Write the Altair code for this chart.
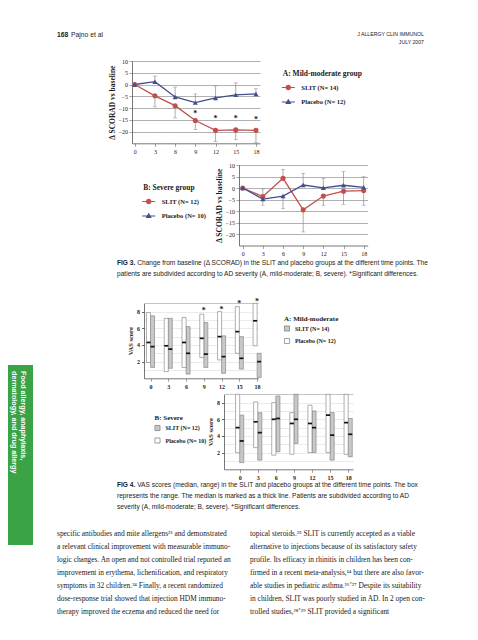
import altair as alt
import pandas as pd

W, H = 462, 624
SERIF = "Liberation Serif"
SANS = "Liberation Sans"
RED = "#c0504d"
BLUE = "#3f4f8f"
GRAY = "#8a8a8a"
INK = "#1a1a1a"

months = [0, 3, 6, 9, 12, 15, 18]

# FIG 3A mild-moderate: change of SCORAD vs baseline
a_slit = [0, -4.8, -9.0, -15.3, -19.5, -19.3, -19.5]
a_slit_end = [0, -9.5, -14.2, -19.2, -24.3, -23.5, -24.6]
a_plac = [0, 1.2, -5.3, -7.7, -5.7, -4.4, -4.0]
a_plac_end = [0, 3.6, -1.1, -4.0, -0.6, 0.7, -1.8]
a_star_m = [9, 12, 15, 18]
a_star_y = [-11.6, -14.0, -14.0, -14.2]

# FIG 3B severe
b_slit = [0, -3.7, 4.2, -9.5, -3.5, -1.4, -1.1]
b_slit_end = [0, -0.4, 8.1, -19.1, -7.5, -7.1, -7.5]
b_plac = [0, -4.8, -3.5, 1.3, 0.1, 1.2, 0.3]
b_plac_end = [0, -7.5, -9.0, 6.4, 4.1, 7.1, 4.9]

# FIG 4A mild-moderate: VAS (min, max, median)
c_plac_min = [1.9, 0.8, 1.3, 2.5, 2.2, 3.0, 3.9]
c_plac_max = [7.9, 7.2, 7.3, 7.7, 8.0, 8.6, 9.0]
c_plac_med = [4.3, 3.9, 4.3, 4.8, 5.0, 5.6, 6.9]
c_slit_min = [1.3, 1.2, 0.5, 1.3, 0.6, 1.1, 0.1]
c_slit_max = [7.5, 7.2, 6.2, 6.7, 5.1, 5.0, 3.0]
c_slit_med = [3.8, 3.5, 3.0, 2.9, 2.6, 2.4, 2.0]
c_star_m = [9, 12, 15, 18]
c_star_y = [8.3, 8.4, 9.1, 9.4]

# FIG 4B severe
d_plac_min = [2.0, 2.6, 1.7, 1.8, 2.0, 2.0, 1.8]
d_plac_max = [9.0, 8.1, 8.0, 6.8, 7.7, 9.0, 9.0]
d_plac_med = [5.0, 5.7, 6.0, 5.5, 5.5, 6.5, 5.6]
d_slit_min = [0.8, 1.1, 2.1, 3.1, 2.0, 1.1, 1.5]
d_slit_max = [6.5, 6.8, 8.8, 9.0, 7.0, 6.8, 6.1]
d_slit_med = [3.4, 4.4, 6.1, 6.0, 5.0, 4.1, 4.2]

BOXW = 0.68
# legend keys: a thin filled bar (the line) plus the marker
BAR = "M-1.45,-0.09L1.45,-0.09L1.45,0.09L-1.45,0.09Z"
P_S = BAR + "M0.62,0A0.62,0.62,0,1,1,-0.62,0A0.62,0.62,0,1,1,0.62,0Z"
P_P = BAR + "M0,-0.75L0.68,0.45L-0.68,0.45Z"

one = pd.DataFrame({"k": [0]})


def txt(text, x, y, size, font=SANS, weight="normal", align="left",
        baseline="alphabetic", color=INK, lh=None, angle=None, style="normal"):
    kw = dict(align=align, baseline=baseline, font=font, fontSize=size,
              fontWeight=weight, color=color, fontStyle=style)
    if lh is not None:
        kw["lineHeight"] = lh
    if angle is not None:
        kw["angle"] = angle
    return alt.Chart(one).mark_text(**kw).encode(
        x=alt.value(x), y=alt.value(y), text=alt.value(text))


def fig3(slit, slit_end, plac, plac_end, star_m, star_y, n_s, n_p, title,
         xdom, xr, yr, lx, ly):
    lab_s, lab_p = f"SLIT (N= {n_s})", f"Placebo (N= {n_p})"
    dom = [lab_s, lab_p]
    df = pd.DataFrame({"month": months * 2, "value": slit + plac,
                       "end": slit_end + plac_end,
                       "group": [lab_s] * 7 + [lab_p] * 7})

    def xs():
        return alt.Scale(domain=xdom, range=xr, nice=False, zero=False)

    def ys():
        return alt.Scale(domain=[-25, 10], range=yr, nice=False, zero=False)

    xaxis = alt.Axis(orient="bottom", offset=yr[0] - H, values=months, title=None,
                     grid=False, labelFont=SERIF, labelFontSize=6, labelColor=INK,
                     labelPadding=2, tickSize=3, tickColor="#666", tickWidth=0.6,
                     domainColor="#555", domainWidth=0.8, labelFlush=False)
    yaxis = alt.Axis(orient="left", offset=-xr[0], values=[10, 5, 0, -5, -10, -15, -20],
                     title="Δ SCORAD vs baseline", titleFont=SERIF, titleFontSize=7.5,
                     titleFontWeight="bold", titleColor=INK, titlePadding=2,
                     labelFont=SERIF, labelFontSize=6, labelColor=INK, labelPadding=1.5,
                     tickSize=3, tickColor="#666", tickWidth=0.6, grid=True,
                     gridColor="#8f8f8f", gridWidth=0.7, domainColor="#555",
                     domainWidth=0.8, labelFlush=False, labelOverlap=False)
    leg = alt.Legend(orient="none", legendX=lx, legendY=ly, title=title, padding=0,
                     symbolSize=80, labelOffset=7.5, rowPadding=1.5, titlePadding=5,
                     titleFont=SERIF, titleFontSize=7.5, titleFontWeight="bold",
                     titleColor=INK, labelFont=SERIF, labelFontSize=6.5,
                     labelFontWeight="bold", labelColor=INK, symbolOpacity=1)

    def color(legend=None):
        return alt.Color("group:N", scale=alt.Scale(domain=dom, range=[RED, BLUE]),
                         legend=legend)

    def X():
        return alt.X("month:Q", scale=xs(), axis=None)

    def Y(f="value"):
        return alt.Y(f"{f}:Q", scale=ys(), axis=None)

    base = alt.Chart(df)
    err = base.transform_filter("datum.month > 0").mark_rule(
        color=GRAY, strokeWidth=0.7).encode(
        x=alt.X("month:Q", scale=xs(), axis=xaxis),
        y=alt.Y("value:Q", scale=ys(), axis=yaxis), y2="end:Q")
    caps = base.transform_filter("datum.month > 0").mark_tick(
        orient="horizontal", size=4, thickness=0.7, color=GRAY).encode(x=X(), y=Y("end"))
    line = base.mark_line(strokeWidth=1.3).encode(x=X(), y=Y(), color=color())
    pts_s = base.transform_filter(f"datum.group === '{lab_s}'").mark_point(
        filled=True, size=26, opacity=1, shape="circle").encode(x=X(), y=Y(), color=color())
    pts_p = base.transform_filter(f"datum.group === '{lab_p}'").mark_point(
        filled=True, size=26, opacity=1, shape="triangle-up").encode(
        x=X(), y=Y(), color=color())
    key = base.transform_filter("false").mark_point(filled=True, opacity=1).encode(
        color=color(leg),
        shape=alt.Shape("group:N", scale=alt.Scale(domain=dom, range=[P_S, P_P]),
                        legend=leg))
    units = [err, caps, line, pts_s, pts_p, key]
    if star_m:
        st = alt.Chart(pd.DataFrame({"month": star_m, "y": star_y})).mark_text(
            text="*", font=SERIF, fontSize=8, fontWeight="bold", color=INK, dy=2).encode(
            x=X(), y=Y("y"))
        units.append(st)
    return units


def fig4(pmin, pmax, pmed, smin, smax, smed, n_s, n_p, title, xdom, xr, yr, lx, ly,
         star_m=None, star_y=None):
    lab_s, lab_p = f"SLIT (N= {n_s})", f"Placebo (N= {n_p})"
    df = pd.DataFrame({"month": months * 2, "lo": smin + pmin, "hi": smax + pmax,
                       "med": smed + pmed, "group": [lab_s] * 7 + [lab_p] * 7})

    def xs():
        return alt.Scale(domain=xdom, range=xr, nice=False, zero=False)

    def ys():
        return alt.Scale(domain=[0, 9], range=yr, nice=False, zero=False)

    xaxis = alt.Axis(orient="bottom", offset=yr[0] - H, values=months, title=None,
                     grid=False, labelFont=SERIF, labelFontSize=6, labelFontWeight="bold",
                     labelColor=INK, labelPadding=2.5, tickSize=3, tickColor="#666",
                     tickWidth=0.6, domainColor="#555", domainWidth=0.8, labelFlush=False)
    yaxis = alt.Axis(orient="left", offset=-xr[0], values=list(range(1, 10)),
                     labelExpr="datum.value % 2 == 0 ? datum.label : ''",
                     title="VAS score", titleFont=SERIF, titleFontSize=6.5,
                     titleFontWeight="bold", titleColor=INK, titlePadding=3,
                     labelFont=SERIF, labelFontSize=6, labelFontWeight="bold",
                     labelColor=INK, labelPadding=2, tickSize=2.5, tickColor="#666",
                     tickOpacity={"condition": {"test": "datum.value % 2 == 0", "value": 1},
                                  "value": 0},
                     grid=True, gridWidth=0.6,
                     gridColor={"condition": {"test": "datum.value == 9", "value": "#9a9a9a"},
                                "value": "#dedede"},
                     domainColor="#555", domainWidth=0.8, labelFlush=False,
                     labelOverlap=False)
    leg = alt.Legend(orient="none", legendX=lx, legendY=ly, title=title, padding=0,
                     symbolType="square", symbolSize=26, symbolStrokeColor="#777",
                     symbolStrokeWidth=0.7, labelOffset=5, rowPadding=4.5, titlePadding=4,
                     titleFont=SERIF, titleFontSize=7, titleFontWeight="bold",
                     titleColor=INK, labelFont=SERIF, labelFontSize=6,
                     labelFontWeight="bold", labelColor=INK)
    color = alt.Color("group:N", scale=alt.Scale(domain=[lab_s, lab_p],
                                                 range=["#c8c8c8", "#ffffff"]), legend=leg)
    base = alt.Chart(df).transform_calculate(
        x0=f"datum.group === '{lab_s}' ? datum.month : datum.month - {BOXW}",
        x1=f"datum.group === '{lab_s}' ? datum.month + {BOXW} : datum.month")
    box = base.mark_rect(stroke="#7a7a7a", strokeWidth=0.6).encode(
        x=alt.X("x0:Q", scale=xs(), axis=xaxis), x2="x1:Q",
        y=alt.Y("lo:Q", scale=ys(), axis=yaxis), y2="hi:Q", color=color)
    med = base.mark_rule(color="#111", strokeWidth=1.7).encode(
        x=alt.X("x0:Q", scale=xs(), axis=None), x2="x1:Q",
        y=alt.Y("med:Q", scale=ys(), axis=None))
    units = [box, med]
    if star_m:
        st = alt.Chart(pd.DataFrame({"month": star_m, "y": star_y})).mark_text(
            text="*", font=SERIF, fontSize=8, fontWeight="bold", color=INK, dy=2).encode(
            x=alt.X("month:Q", scale=xs(), axis=None), y=alt.Y("y:Q", scale=ys(), axis=None))
        units.append(st)
    return units


f3a = fig3(a_slit, a_slit_end, a_plac, a_plac_end, a_star_m, a_star_y, 14, 12,
           "A: Mild-moderate group", [-0.4, 18.6], [124, 252], [135.3, 53], 274.8, 61.5)
f3b = fig3(b_slit, b_slit_end, b_plac, b_plac_end, [], [], 12, 10,
           "B: Severe group", [-0.55, 18.6], [231, 359.7], [237.5, 157], 135.2, 175.5)
f4a = fig4(c_plac_min, c_plac_max, c_plac_med, c_slit_min, c_slit_max, c_slit_med, 14, 12,
           "A: Mild-moderate", [-1.1, 18.2], [136, 250.3], [370.3, 295.3], 276, 306.5,
           c_star_m, c_star_y)
f4b = fig4(d_plac_min, d_plac_max, d_plac_med, d_slit_min, d_slit_max, d_slit_med, 12, 10,
           "B: Severe", [-2.6, 18.8], [216, 345], [461.3, 386.3], 146.5, 406)

left_col = [
    "specific antibodies and mite allergens²³ and demonstrated",
    "a relevant clinical improvement with measurable immuno-",
    "logic changes. An open and not controlled trial reported an",
    "improvement in erythema, lichenification, and respiratory",
    "symptoms in 32 children.²⁴ Finally, a recent randomized",
    "dose-response trial showed that injection HDM immuno-",
    "therapy improved the eczema and reduced the need for",
]
right_col = [
    "topical steroids.²⁵ SLIT is currently accepted as a viable",
    "alternative to injections because of its satisfactory safety",
    "profile. Its efficacy in rhinitis in children has been con-",
    "firmed in a recent meta-analysis,¹⁴ but there are also favor-",
    "able studies in pediatric asthma.²⁶ʼ²⁷ Despite its suitability",
    "in children, SLIT was poorly studied in AD. In 2 open con-",
    "trolled studies,²⁸ʼ²⁹ SLIT provided a significant",
]

CAP = 6.6
texts = [
    txt("168", 49, 29, 6.8, weight="bold"),
    txt("Pajno et al", 63, 29, 6.8),
    txt(["J ALLERGY CLIN IMMUNOL", "JULY 2007"], 416, 28.4, 5.2, align="right", lh=7.3),
    txt("FIG 3.", 109, 257, CAP, weight="bold"),
    txt("Change from baseline (Δ SCORAD) in the SLIT and placebo groups at the different time points. The",
        129.2, 257, CAP),
    txt("patients are subdivided according to AD severity (A, mild-moderate; B, severe). *Significant differences.",
        109, 268, CAP),
    txt("FIG 4.", 109, 479, CAP, weight="bold"),
    txt("VAS scores (median, range) in the SLIT and placebo groups at the different time points. The box",
        129.2, 479, CAP),
    txt(["represents the range. The median is marked as a thick line. Patients are subdivided according to AD",
         "severity (A, mild-moderate; B, severe). *Significant differences."], 109, 490, CAP, lh=11),
    txt(left_col, 49, 528, 7.4, font=SERIF, lh=13),
    txt(right_col, 242, 528, 7.4, font=SERIF, lh=13),
]

tab = alt.Chart(one).mark_rect(color="#3aa346").encode(
    x=alt.value(0), x2=alt.value(25), y=alt.value(357), y2=alt.value(537))
tab_text = [
    txt("Food allergy, anaphylaxis,", 15, 363, 7.2, weight="bold", color="white",
        baseline="middle", angle=90),
    txt("dermatology, and drug allergy", 5.8, 363, 7.2, weight="bold", color="white",
        baseline="middle", angle=90),
]

chart = alt.layer(*f3a, *f3b, *f4a, *f4b, tab, *tab_text, *texts).resolve_scale(
    x="independent", y="independent", color="independent", shape="independent"
).resolve_axis(x="independent", y="independent").resolve_legend(
    color="independent", shape="independent"
).properties(
    width=W, height=H, autosize=alt.AutoSizeParams(type="none"), padding=0,
    background="white"
).configure_view(stroke=None)

chart.save("out.html", embed_options={"renderer": "svg", "actions": False})
